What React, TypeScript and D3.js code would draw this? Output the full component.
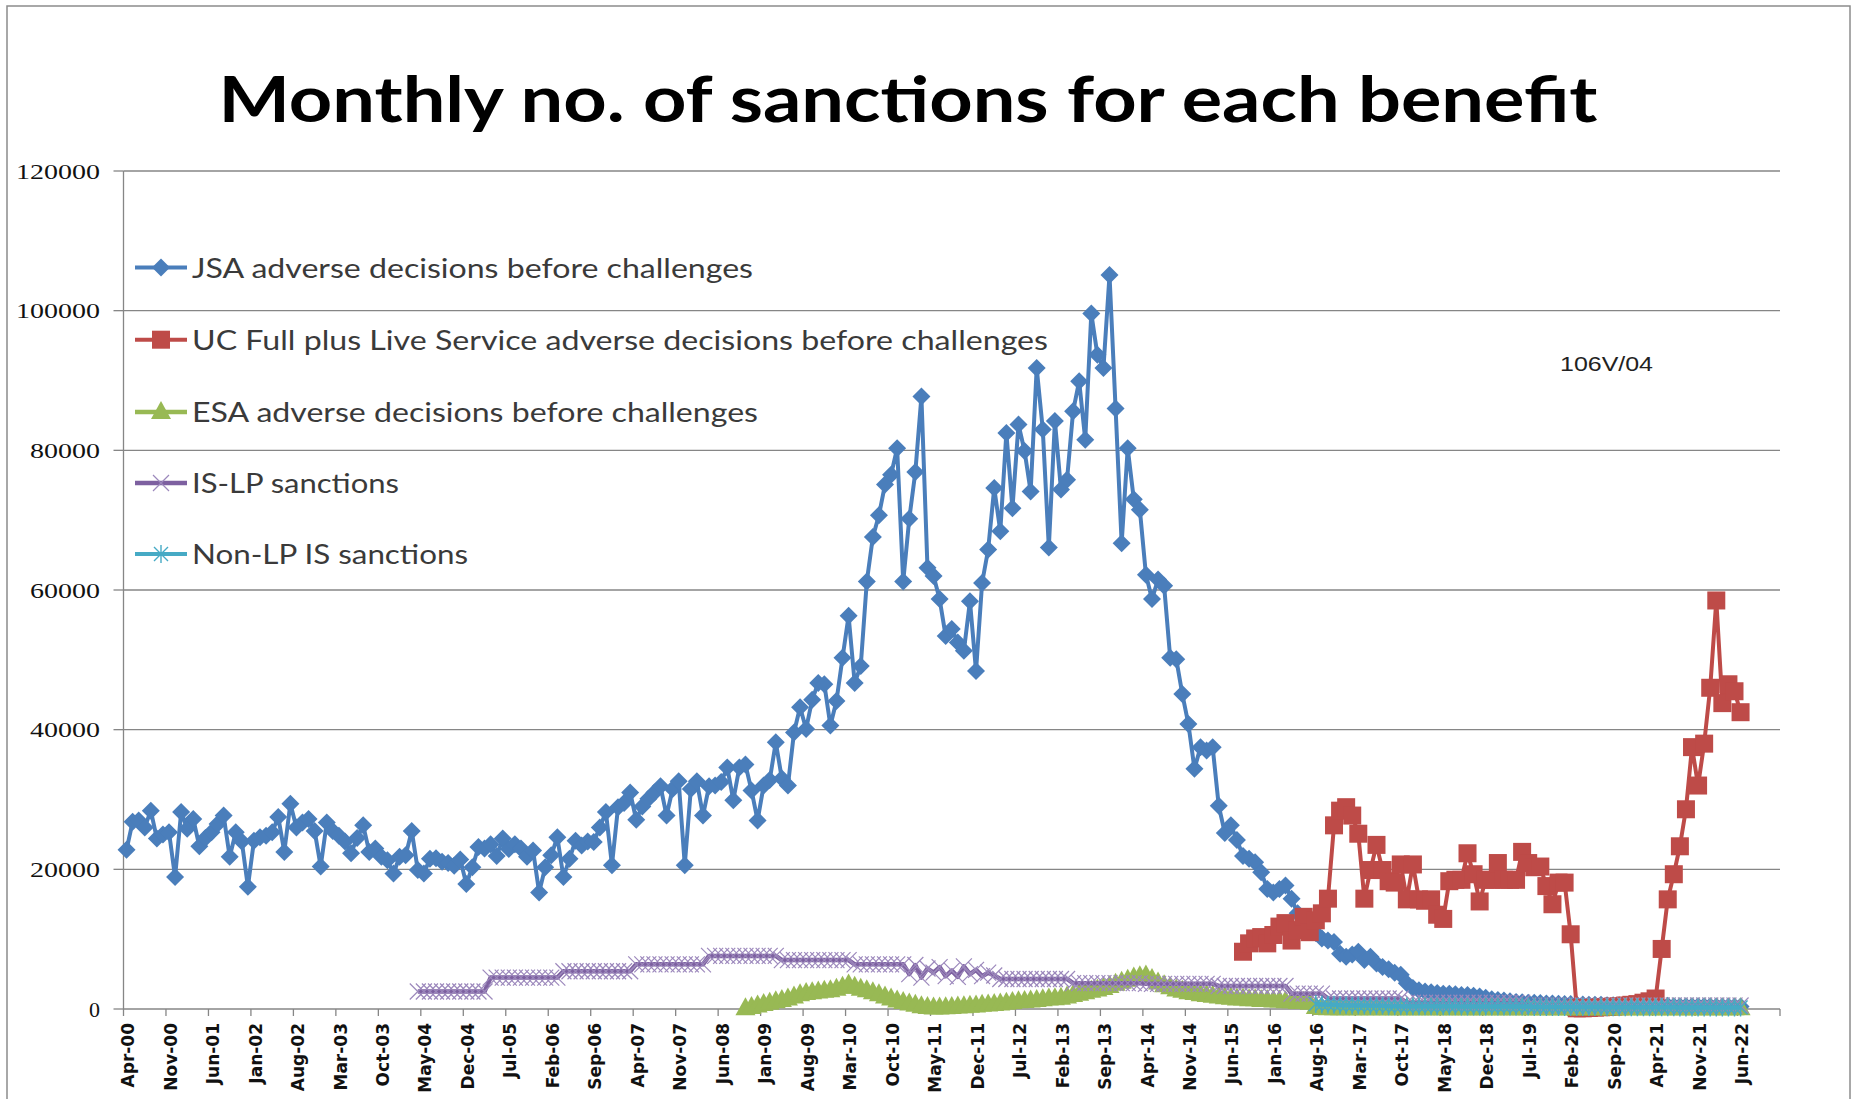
import React from 'react';
import * as d3 from 'd3';

// categories: monthly, Apr-00 .. Dec-22 (the axis runs a few empty months past Jun-22)
const NUM_MONTHS = 273;
const TICK_EVERY = 7;

const tickLabels = [
  'Apr-00', 'Nov-00', 'Jun-01', 'Jan-02', 'Aug-02', 'Mar-03', 'Oct-03', 'May-04', 'Dec-04', 'Jul-05',
  'Feb-06', 'Sep-06', 'Apr-07', 'Nov-07', 'Jun-08', 'Jan-09', 'Aug-09', 'Mar-10', 'Oct-10', 'May-11',
  'Dec-11', 'Jul-12', 'Feb-13', 'Sep-13', 'Apr-14', 'Nov-14', 'Jun-15', 'Jan-16', 'Aug-16', 'Mar-17',
  'Oct-17', 'May-18', 'Dec-18', 'Jul-19', 'Feb-20', 'Sep-20', 'Apr-21', 'Nov-21', 'Jun-22'
];

const yTicks = [0, 20000, 40000, 60000, 80000, 100000, 120000];

// JSA adverse decisions, from Apr-00 (month index 0)
const jsaStart = 0;
const jsaValues = [
  22800, 26800, 27000, 26000, 28400, 24400, 25000, 25300, 18900, 28200, 25800, 27200,
  23300, 24500, 25300, 26500, 27700, 21800, 25300, 24000, 17500, 24100, 24600, 24800,
  25300, 27500, 22500, 29400, 26000, 26700, 27200, 25500, 20400, 26700, 25500, 24800,
  24000, 22300, 24500, 26300, 22500, 23000, 21800, 21300, 19400, 21800, 22000, 25500,
  19900, 19400, 21500, 21600, 21100, 20900, 20500, 21400, 17900, 20300, 23200, 23000,
  23600, 21900, 24400, 22900, 23600, 23000, 21800, 22700, 16700, 20300, 22000, 24600,
  18900, 21500, 24100, 23400, 24000, 23900, 26000, 28200, 20600, 28900, 29500, 31000,
  27100, 29000, 30100, 31000, 31900, 27700, 31500, 32600, 20600, 31500, 32600, 27700,
  31900, 32000, 32500, 34600, 29900, 34600, 35000, 31300, 27000, 32000, 32800, 38200,
  33000, 32000, 39600, 43200, 40100, 44300, 46700, 46500, 40600, 44100, 50300, 56300,
  46700, 49100, 61200, 67600, 70700, 75100, 76500, 80300, 61200, 70200, 76900, 87700,
  63200, 62000, 58700, 53400, 54400, 52500, 51300, 58400, 48400, 61000, 65800, 74600,
  68400, 82500, 71700, 83700, 79900, 74100, 91800, 83000, 66100, 84200, 74400, 75800,
  85600, 89900, 81500, 99600, 93700, 91800, 105100, 86000, 66700, 80300, 73000, 71500,
  62200, 58700, 61500, 60600, 50300, 50100, 45100, 40800, 34400, 37500, 37000, 37500,
  29100, 25200, 26300, 24200, 21900, 21500, 21000, 19600, 17200, 16700, 17200, 17700,
  15800, 13700, 12800, 11800, 10900, 10100, 9800, 9600, 7900, 7500, 7800, 8200,
  7000, 7500, 6500, 6000, 5700, 5200, 4900, 3700, 3000, 2700, 2500, 2400,
  2300, 2200, 2200, 2100, 2000, 2000, 1900, 1800, 1600, 1400, 1300, 1200,
  1100, 1000, 950, 900, 900, 850, 800, 800, 750, 700, 700, 650,
  650, 600, 600, 600, 550, 550, 550, 500, 500, 500, 500, 450,
  450, 450, 450, 400, 400, 400, 400, 400, 400, 400, 350, 350,
  350, 350, 350
];

// UC Full plus Live Service, from Aug-15
const ucStart = 184;
const ucValues = [
  8200, 9400, 10100, 10300, 9400, 10600, 11800, 12300, 9800, 11300, 13200, 11000,
  12700, 13700, 15800, 26300, 28400, 28900, 27700, 25100, 15800, 19900, 23500, 19900,
  18300, 18100, 20700, 15700, 20700, 15700, 15500, 15700, 13500, 12900, 18300, 18500,
  18500, 22300, 19300, 15400, 18500, 18500, 20900, 18500, 18500, 18500, 22500, 20900,
  20300, 20400, 17600, 15000, 18100, 18100, 10700, 100, 100, 150, 200, 250,
  300, 350, 400, 500, 600, 700, 900, 1100, 1500, 8600, 15700, 19300,
  23300, 28600, 37500, 32000, 38000, 46000, 58500, 43800, 46500, 45500, 42500
];

// ESA adverse decisions, from Oct-08
const esaStart = 102;
const esaValues = [
  100, 300, 500, 700, 900, 1100, 1300, 1500, 1800, 2100, 2300, 2400,
  2500, 2600, 2700, 2900, 3200, 3500, 3200, 2900, 2700, 2400, 2100, 1800,
  1500, 1200, 1000, 800, 600, 400, 300, 200, 200, 250, 300, 350,
  400, 450, 500, 600, 650, 700, 800, 900, 1000, 1100, 1150, 1200,
  1300, 1400, 1500, 1550, 1600, 1800, 2000, 2200, 2400, 2600, 2800, 3000,
  3300, 3600, 3900, 4200, 4500, 4700, 4800, 4300, 3800, 3400, 3100, 2800,
  2600, 2400, 2300, 2100, 2000, 1900, 1800, 1700, 1600, 1500, 1500, 1400,
  1400, 1300, 1300, 1200, 1200, 1100, 1100, 1000, 1000, 900, 300, 150,
  100, 100, 100, 100, 100, 100, 100, 100, 100, 100, 100, 100,
  100, 100, 100, 100, 100, 100, 100, 100, 100, 100, 100, 100,
  100, 100, 100, 100, 100, 100, 100, 100, 100, 100, 100, 100,
  100, 100, 100, 100, 100, 100, 100, 100, 100, 100, 100, 100,
  100, 100, 100, 100, 100, 100, 100, 100, 100, 100, 100, 100,
  100, 100, 100, 100, 100, 100, 100, 100, 100
];

// IS-LP sanctions, from Apr-04
const islpStart = 48;
const islpValues = [
  2500, 2500, 2500, 2500, 2500, 2500, 2500, 2500, 2500, 2500, 2500, 2500,
  4500, 4500, 4500, 4500, 4500, 4500, 4500, 4500, 4500, 4500, 4500, 4500,
  5400, 5400, 5400, 5400, 5400, 5400, 5400, 5400, 5400, 5400, 5400, 5400,
  6400, 6400, 6400, 6400, 6400, 6400, 6400, 6400, 6400, 6400, 6400, 6400,
  7600, 7600, 7600, 7600, 7600, 7600, 7600, 7600, 7600, 7600, 7600, 7600,
  7000, 7000, 7000, 7000, 7000, 7000, 7000, 7000, 7000, 7000, 7000, 7000,
  6400, 6400, 6400, 6400, 6400, 6400, 6400, 6400, 6400,
  5000, 6300, 4500, 5800, 5200, 6000, 4700, 5500, 4600, 6100, 5000, 5600, 4700, 5200, 4800,
  4300, 4300, 4300, 4300, 4300, 4300, 4300, 4300, 4300, 4300, 4300, 4300,
  3700, 3700, 3700, 3700, 3700, 3700, 3700, 3700, 3700, 3700, 3700, 3700,
  3600, 3600, 3600, 3600, 3600, 3600, 3600, 3600, 3600, 3600, 3600, 3600,
  3300, 3300, 3300, 3300, 3300, 3300, 3300, 3300, 3300, 3300, 3300, 3300,
  2200, 2200, 2200, 2200, 2200, 2200,
  1500, 1500, 1500, 1500, 1500, 1500, 1500, 1500, 1500, 1500, 1500, 1500, 1500,
  900, 900, 900, 900, 900, 900, 900, 900, 900, 900, 900, 900, 900, 900, 900, 900, 900, 900, 900, 900,
  500, 500, 500, 500, 500, 500, 500, 500, 500, 500, 500, 500,
  500, 500, 500, 500, 500, 500, 500, 500, 500, 500, 500, 500,
  500, 500, 500, 500, 500, 500, 500, 500, 500, 500, 500, 500
];

// Non-LP IS sanctions, from Aug-16
const nonLpStart = 196;
const nonLpValues = [
  700, 650, 600, 600, 550, 550, 500, 500, 500, 450, 450, 450,
  400, 400, 400, 400, 400, 400, 400, 400, 400, 400, 400, 400,
  350, 350, 350, 350, 350, 350, 350, 350, 350, 350, 350, 350,
  300, 300, 300, 300, 300, 300, 300, 300, 300, 300, 300, 300,
  250, 250, 250, 250, 250, 250, 250, 250, 250, 250, 250, 250,
  200, 200, 200, 200, 200, 200, 200, 200, 200, 200, 200
];

type MarkerKind = 'diamond' | 'square' | 'triangle' | 'x' | 'star';

const SERIES: { name: string; start: number; values: number[]; color: string; marker: MarkerKind; width: number; textLen: number }[] = [
  { name: 'JSA adverse decisions before challenges', start: jsaStart, values: jsaValues, color: '#4A7EBB', marker: 'diamond', width: 4, textLen: 561 },
  { name: 'UC Full plus Live Service adverse decisions before challenges', start: ucStart, values: ucValues, color: '#BE4B48', marker: 'square', width: 4, textLen: 856 },
  { name: 'ESA adverse decisions before challenges', start: esaStart, values: esaValues, color: '#98B954', marker: 'triangle', width: 4.5, textLen: 566 },
  { name: 'IS-LP sanctions', start: islpStart, values: islpValues, color: '#7D60A0', marker: 'x', width: 4.5, textLen: 207 },
  { name: 'Non-LP IS sanctions', start: nonLpStart, values: nonLpValues, color: '#46AAC5', marker: 'star', width: 4, textLen: 276 }
];

const W = 1856;
const H = 1099;
const PLOT = { left: 123.5, right: 1780, top: 171, bottom: 1009 };
const GRID = '#868686';

const Marker: React.FC<{ kind: MarkerKind; x: number; y: number; color: string }> = ({ kind, x, y, color }) => {
  switch (kind) {
    case 'diamond':
      return <path d={`M${x},${y - 9}L${x + 9},${y}L${x},${y + 9}L${x - 9},${y}Z`} fill={color} />;
    case 'square':
      return <rect x={x - 9} y={y - 9} width={18} height={18} fill={color} />;
    case 'triangle':
      return <path d={`M${x},${y - 11}L${x + 10},${y + 7}L${x - 10},${y + 7}Z`} fill={color} />;
    case 'x':
      return (
        <path d={`M${x - 8},${y - 8}L${x + 8},${y + 8}M${x - 8},${y + 8}L${x + 8},${y - 8}`}
          stroke="#9C88BC" strokeWidth={1.2} fill="none" />
      );
    case 'star':
      return (
        <path d={`M${x - 7},${y - 7}L${x + 7},${y + 7}M${x - 7},${y + 7}L${x + 7},${y - 7}M${x},${y - 9}L${x},${y + 9}`}
          stroke={color} strokeWidth={1.4} fill="none" />
      );
  }
};

const App: React.FC = () => {
  const x = d3.scaleBand<number>()
    .domain(d3.range(NUM_MONTHS))
    .range([PLOT.left, PLOT.right])
    .paddingInner(0)
    .paddingOuter(0);
  const bw = x.bandwidth();
  const cx = (i: number) => (x(i) as number) + bw / 2;

  const y = d3.scaleLinear().domain([0, 120000]).range([PLOT.bottom, PLOT.top]);

  const line = d3.line<[number, number]>()
    .x(d => cx(d[0]))
    .y(d => y(d[1]));

  const legendY = [267.5, 339.7, 412, 483, 554];

  const tickXs = d3.range(0, NUM_MONTHS + 1, TICK_EVERY).map(i => PLOT.left + i * bw);

  return (
    <svg width={W} height={H} viewBox={`0 0 ${W} ${H}`}
      style={{ position: 'absolute', left: 0, top: 0, display: 'block', background: '#fff' }}>
      <rect x={0} y={0} width={W} height={H} fill="#fff" />
      {/* chart border */}
      <rect x={7} y={6} width={1843} height={1110} fill="none" stroke="#8c8c8c" strokeWidth={1.5} />

      {/* title */}
      <text x={908} y={122} textAnchor="middle" fontFamily="Lato, 'Open Sans', sans-serif" fontWeight={700}
        fontSize={64} textLength={1379} lengthAdjust="spacingAndGlyphs" fill="#000">
        Monthly no. of sanctions for each benefit
      </text>

      {/* gridlines + y axis */}
      {yTicks.map(t => (
        <g key={t}>
          {t > 0 && <line x1={PLOT.left} x2={PLOT.right} y1={y(t)} y2={y(t)} stroke={GRID} strokeWidth={1.3} />}
          <line x1={PLOT.left - 10} x2={PLOT.left} y1={y(t)} y2={y(t)} stroke={GRID} strokeWidth={1.3} />
          <text x={100} y={y(t)} dy="0.35em" textAnchor="end" fontFamily="'Liberation Serif', 'Times New Roman', serif"
            fontSize={22} fill="#111"
            {...(String(t).length > 1 ? { textLength: String(t).length * 14, lengthAdjust: 'spacingAndGlyphs' } : {})}>
            {t}
          </text>
        </g>
      ))}
      <line x1={PLOT.left} x2={PLOT.left} y1={PLOT.top} y2={PLOT.bottom} stroke={GRID} strokeWidth={1.3} />
      <line x1={PLOT.left} x2={PLOT.right} y1={PLOT.bottom} y2={PLOT.bottom} stroke={GRID} strokeWidth={1.5} />

      {/* x ticks and labels */}
      {tickXs.map((tx, k) => (
        <line key={k} x1={tx} x2={tx} y1={PLOT.bottom} y2={PLOT.bottom + 7} stroke={GRID} strokeWidth={1.3} />
      ))}
      {tickLabels.map((lab, k) => {
        const lx = cx(k * TICK_EVERY) + 1.5;
        const ly = 1023;
        return (
          <text key={lab} x={lx} y={ly} dy="0.36em" transform={`rotate(-90,${lx},${ly})`} textAnchor="end"
            fontFamily="'DejaVu Sans', Verdana, sans-serif" fontWeight={700} fontSize={17} fill="#111">
            {lab}
          </text>
        );
      })}

      {/* series, drawn in series order */}
      {SERIES.map(s => {
        const pts: [number, number][] = s.values.map((v, j) => [s.start + j, v]);
        return (
          <g key={s.name}>
            <path d={line(pts) || ''} fill="none" stroke={s.color} strokeWidth={s.width} strokeLinejoin="round" />
            {pts.map(p => (
              <Marker key={p[0]} kind={s.marker} x={cx(p[0])} y={y(p[1])} color={s.color} />
            ))}
          </g>
        );
      })}

      {/* legend */}
      {SERIES.map((s, k) => (
        <g key={s.name}>
          <line x1={135} x2={187} y1={legendY[k]} y2={legendY[k]} stroke={s.color} strokeWidth={s.width} />
          <Marker kind={s.marker} x={161} y={legendY[k]} color={s.color} />
          <text x={192} y={legendY[k] + 10} fontFamily="Lato, 'Open Sans', sans-serif" fontSize={27} fill="#3a3a3a"
            textLength={s.textLen} lengthAdjust="spacingAndGlyphs">
            {s.name}
          </text>
        </g>
      ))}

      {/* note */}
      <text x={1560} y={371} fontFamily="'Liberation Sans', Arial, sans-serif" fontSize={21} fill="#222"
        textLength={93} lengthAdjust="spacingAndGlyphs">
        106V/04
      </text>
    </svg>
  );
};

export default App;
